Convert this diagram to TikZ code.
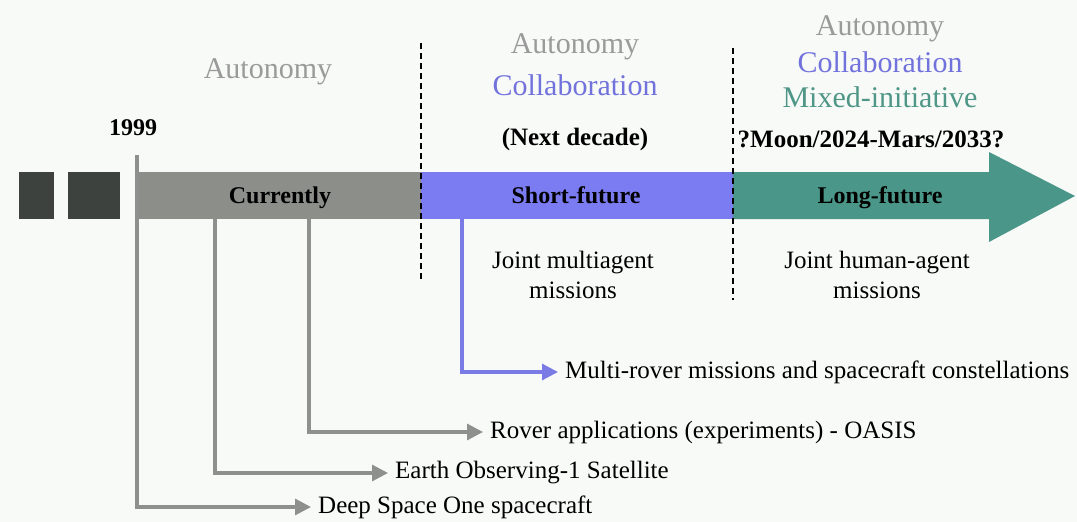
\documentclass[tikz,border=0pt]{standalone}
\usepackage{fontspec}
\setmainfont{Liberation Serif}
\usetikzlibrary{arrows.meta}
\definecolor{bgc}{HTML}{F8FAF8}
\definecolor{sq}{HTML}{3E423E}
\definecolor{nowbar}{HTML}{8C8E8A}
\definecolor{shortbar}{HTML}{7B7BF2}
\definecolor{longbar}{HTML}{4A9688}
\definecolor{headgray}{HTML}{9A9A9A}
\definecolor{headblue}{HTML}{7272DC}
\definecolor{headteal}{HTML}{4E9686}
\definecolor{linkgray}{HTML}{8E908E}
\definecolor{linkblue}{HTML}{7B7BE6}
\tikzset{
  head/.style={font=\fontsize{30}{32}\selectfont, inner sep=0pt, anchor=base},
  era/.style={font=\bfseries\fontsize{24}{26}\selectfont, inner sep=0pt, anchor=base},
  when/.style={font=\bfseries\fontsize{25}{27}\selectfont, inner sep=0pt, anchor=base},
  note/.style={font=\fontsize{25}{30}\selectfont, align=center, inner sep=0pt, anchor=base},
  item/.style={font=\fontsize{25}{28}\selectfont, anchor=west, inner sep=0pt},
  link/.style={line width=3.2pt, linkgray, shorten >=7pt,
               -{Triangle[length=16pt,width=16pt]}},
  divider/.style={line width=1.5pt, black, dash pattern=on 6pt off 4pt},
}
\begin{document}
\begin{tikzpicture}[x=1pt,y=-1pt]
  \useasboundingbox (0,0) rectangle (1077,522);
  \fill[bgc] (0,0) rectangle (1077,522);

  % time line: earlier blocks, current, short and long future
  \fill[sq] (19,172) rectangle (54,219);
  \fill[sq] (68,172) rectangle (120,219);
  \fill[nowbar] (136,172) rectangle (421,219);
  \fill[shortbar] (421,172) rectangle (733,219);
  \fill[longbar] (733,172) -- (989,172) -- (989,152) -- (1075,196)
                 -- (989,242) -- (989,219) -- (733,219) -- cycle;

  % bar labels
  \node[era] (now)   at (280,203) {Currently};
  \node[era] (short) at (576,203) {Short-future};
  \node[era] (long)  at (880,203) {Long-future};

  % headings above each period
  \node[head, headgray] (a1) at (268,78) {Autonomy};
  \node[head, headgray] (a2) at (575,53) {Autonomy};
  \node[head, headblue] (c2) at (575,95) {Collaboration};
  \node[when] (nd) at (575,145) {(Next decade)};
  \node[head, headgray] (a3) at (880,35) {Autonomy};
  \node[head, headblue] (c3) at (880,72) {Collaboration};
  \node[head, headteal] (m3) at (880,107) {Mixed-initiative};
  \node[when] (ms) at (871,147) {?Moon/2024-Mars/2033?};
  \node[font=\bfseries\fontsize{24}{26}\selectfont, inner sep=0pt, anchor=base] (yr) at (133,135) {1999};

  % mission types below the bar
  \node[note] (jm) at (573,298) {Joint multiagent\\missions};
  \node[note] (jh) at (877,298) {Joint human-agent\\missions};

  % milestones
  \node[item] (ds) at (318,507) {Deep Space One spacecraft};
  \node[item] (eo) at (395,473) {Earth Observing-1 Satellite};
  \node[item] (ro) at (490,432) {Rover applications (experiments) - OASIS};
  \node[item] (mr) at (565,372) {Multi-rover missions and spacecraft constellations};

  \coordinate (t0) at (137,155);
  \coordinate (t1) at (215,219);
  \coordinate (t2) at (309,219);
  \coordinate (t3) at (462,219);
  \draw[link] (t0) |- (ds.west);
  \draw[link] (t1) |- (eo.west);
  \draw[link] (t2) |- (ro.west);
  \draw[link, linkblue] (t3) |- (mr.west);

  % period boundaries
  \coordinate (d1a) at (421,43);
  \coordinate (d1b) at (421,280);
  \coordinate (d2a) at (733,48);
  \coordinate (d2b) at (733,300);
  \draw[divider] (d1a) -- (d1b);
  \draw[divider] (d2a) -- (d2b);
\end{tikzpicture}
\end{document}
